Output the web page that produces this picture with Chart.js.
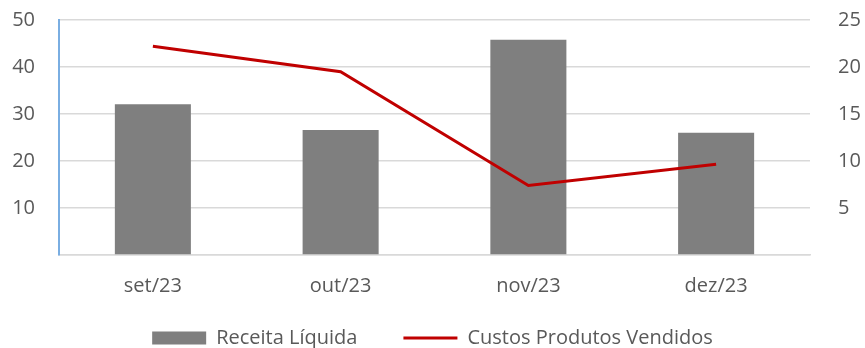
<!DOCTYPE html>
<html>
<head>
<meta charset="utf-8">
<script src="https://cdn.jsdelivr.net/npm/chart.js@4"></script>
<style>
  html, body { margin: 0; padding: 0; background: #fff; }
  #wrap { width: 865px; height: 348px; }
</style>
</head>
<body>
<div id="wrap"><canvas id="chart" width="865" height="348"></canvas></div>
<script>
// Monthly figures
const months = ['set/23', 'out/23', 'nov/23', 'dez/23'];
const receitaLiquida = [32.1, 26.6, 45.8, 26.0];
const custosProdutos = [22.2, 19.5, 7.4, 9.65];
const leftTicks = [0, 10, 20, 30, 40, 50];
const rightTicks = [0, 5, 10, 15, 20, 25];

const textColor = '#595959';
const gridColor = '#d9d9d9';
const fontFamily = '"Open Sans", "Liberation Sans", sans-serif';

Chart.defaults.font.family = fontFamily;
Chart.defaults.font.size = 20;
Chart.defaults.color = textColor;

// the legend sits closer to the axis labels than its padding allows
const legendLift = {
  id: 'legendLift',
  afterLayout(chart) {
    chart.legend.top -= 19;
    chart.legend.bottom -= 19;
  }
};

// tick padding should only push labels sideways, not shrink the plot
const noVerticalPad = scale => {
  scale.paddingTop = 0;
  scale.paddingBottom = 0;
};

new Chart(document.getElementById('chart'), {
  type: 'bar',
  data: {
    labels: months,
    datasets: [
      {
        label: 'Receita Líquida',
        data: receitaLiquida,
        backgroundColor: '#7f7f7f',
        borderWidth: 0,
        barPercentage: 0.405,
        categoryPercentage: 1,
        yAxisID: 'y',
        order: 1
      },
      {
        type: 'line',
        label: 'Custos Produtos Vendidos',
        data: custosProdutos,
        borderColor: '#c00000',
        backgroundColor: '#c00000',
        borderWidth: 3,
        pointRadius: 0,
        pointHoverRadius: 0,
        pointBorderWidth: 3,
        pointBorderColor: '#c00000',
        tension: 0,
        yAxisID: 'y1',
        order: 0
      }
    ]
  },
  options: {
    responsive: false,
    animation: false,
    layout: { padding: { top: 20, left: 0, right: 0, bottom: -29 } },
    scales: {
      x: {
        grid: { display: false, drawTicks: false },
        border: { display: true, color: gridColor, width: 1.5 },
        ticks: { padding: 19, color: textColor },
        afterFit: scale => { scale.height = 46; }
      },
      y: {
        position: 'left',
        min: leftTicks[0],
        max: leftTicks[leftTicks.length - 1],
        afterBuildTicks: scale => { scale.ticks = leftTicks.map(v => ({ value: v })); },
        grid: { color: gridColor, lineWidth: 1.5, drawTicks: false },
        border: { display: true, color: '#7aaee2', width: 2 },
        ticks: {
          padding: 24,
          color: textColor,
          callback: v => (v === 0 ? '' : v)
        },
        afterFit: scale => { scale.width = 59; noVerticalPad(scale); }
      },
      y1: {
        position: 'right',
        min: rightTicks[0],
        max: rightTicks[rightTicks.length - 1],
        afterBuildTicks: scale => { scale.ticks = rightTicks.map(v => ({ value: v })); },
        grid: { display: false, drawTicks: false },
        border: { display: false },
        ticks: {
          padding: 28,
          color: textColor,
          callback: v => (v === 0 ? '' : v)
        },
        afterFit: scale => { scale.width = 55; noVerticalPad(scale); }
      }
    },
    plugins: {
      tooltip: { enabled: false },
      legend: {
        position: 'bottom',
        labels: {
          usePointStyle: true,
          pointStyleWidth: 54,
          boxHeight: 13,
          padding: 46,
          color: textColor,
          generateLabels: chart => {
            const items = Chart.defaults.plugins.legend.labels.generateLabels(chart);
            items.sort((a, b) => a.datasetIndex - b.datasetIndex);
            items.forEach(item => {
              if (item.datasetIndex === 0) {
                item.pointStyle = 'rect';
                item.lineWidth = 0;
              } else {
                item.pointStyle = 'line';
                item.lineWidth = 3;
                item.strokeStyle = '#c00000';
              }
            });
            return items;
          }
        }
      }
    }
  },
  plugins: [legendLift]
});
</script>
</body>
</html>
